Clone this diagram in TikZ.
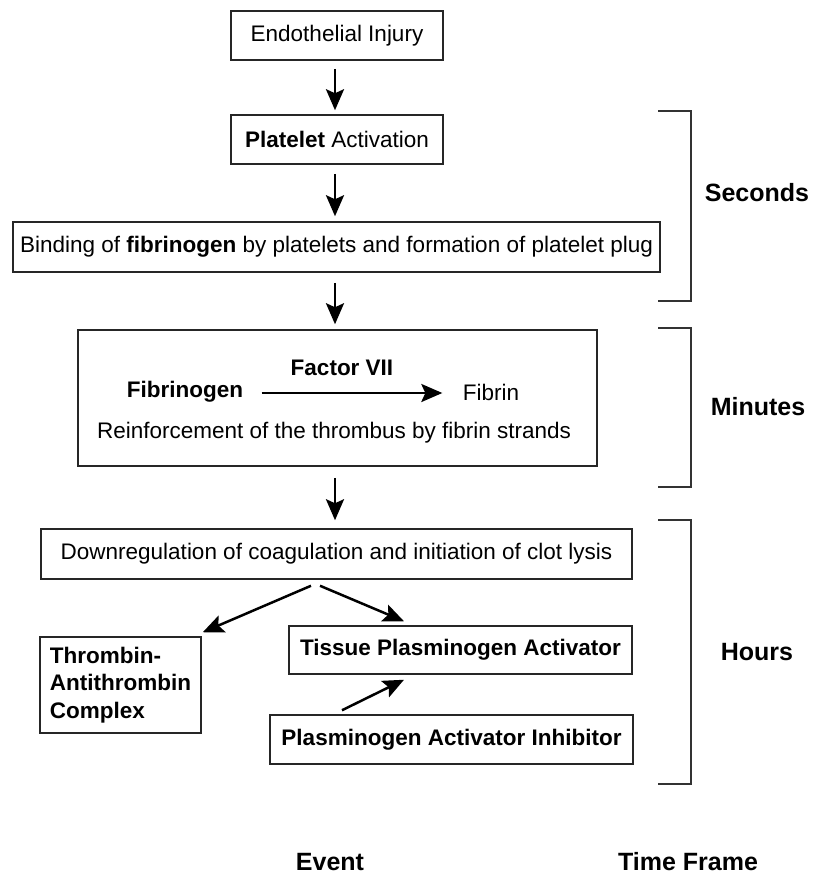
\documentclass[tikz,border=0pt]{standalone}
\usepackage{fontspec}
\setmainfont{Liberation Sans}
\usetikzlibrary{arrows.meta}
\begin{document}
\begin{tikzpicture}[x=1pt,y=-1pt,
  every node/.style={font=\fontsize{22.5}{27.5}\selectfont, text=black},
  box/.style={draw=black!85, line width=1.5pt, inner sep=0pt},
  arr/.style={line width=2.5pt, draw=black, -{Stealth[length=21pt,width=18pt,inset=4pt]}},
  brk/.style={draw=black!80, line width=1.5pt},
  lbl/.style={font=\fontsize{25}{30}\selectfont\bfseries}]
\useasboundingbox (0,0) rectangle (812,876);
% boxes
\node[box, minimum width=212pt, minimum height=49pt] (e) at (337,35.5) {Endothelial Injury};
\node[box, minimum width=212pt, minimum height=49pt] (p) at (337,139.5) {\textbf{Platelet} Activation};
\node[box, minimum width=647pt, minimum height=50pt] (b) at (336.5,247) {Binding of \textbf{fibrinogen} by platelets and formation of platelet plug};
\node[box, minimum width=519pt, minimum height=136pt] (m) at (337.5,398) {};
\node[box, minimum width=591pt, minimum height=50pt] (d) at (336.5,554) {Downregulation of coagulation and initiation of clot lysis};
\node[box, minimum width=161pt, minimum height=96pt, align=left, font=\fontsize{22.5}{27.5}\selectfont\bfseries] (t) at (120.5,685) {Thrombin-\\Antithrombin\\Complex};
\node[box, minimum width=343pt, minimum height=48pt, font=\fontsize{22.5}{27.5}\selectfont\bfseries] (tpa) at (460.5,650) {Tissue Plasminogen Activator};
\node[box, minimum width=363pt, minimum height=49pt, font=\fontsize{22.5}{27.5}\selectfont\bfseries] (pai) at (451.5,739.5) {Plasminogen Activator Inhibitor};
% inside the big box
\node[font=\fontsize{22.5}{27.5}\selectfont\bfseries] (fg) at (185,392) {Fibrinogen};
\node (fb) at (491,392) {Fibrin};
\node[font=\fontsize{22.5}{27.5}\selectfont\bfseries] (f7) at (342,368) {Factor VII};
\node (rf) at (334,433) {Reinforcement of the thrombus by fibrin strands};
\draw[arr] ([xshift=15pt,yshift=-1pt]fg.east) -- ([xshift=-17pt,yshift=-1pt]fb.west);
% vertical arrows
\draw[arr] ([xshift=-2pt,yshift=-8pt]e.south) -- ([xshift=-2pt,yshift=4pt]p.north);
\draw[arr] ([xshift=-2pt,yshift=-9pt]p.south) -- ([xshift=-1.5pt,yshift=5pt]b.north);
\draw[arr] ([xshift=-1.5pt,yshift=-10pt]b.south) -- ([xshift=-2.5pt,yshift=5pt]m.north);
\draw[arr] ([xshift=-2.5pt,yshift=-11pt]m.south) -- ([xshift=-1.5pt,yshift=8pt]d.north);
% diagonal arrows
\draw[arr] ([xshift=-25.5pt,yshift=-6pt]d.south) -- ([xshift=1pt,yshift=4pt]t.north east);
\draw[arr] ([xshift=-16.5pt,yshift=-6pt]d.south) -- ([xshift=-56.5pt,yshift=4pt]tpa.north);
\draw[arr] ([xshift=-109.5pt,yshift=4pt]pai.north) -- ([xshift=-56.5pt,yshift=-5pt]tpa.south);
% brackets
\draw[brk] (658,111) -- (691,111) -- (691,301) -- (658,301);
\draw[brk] (658,328) -- (691,328) -- (691,487) -- (658,487);
\draw[brk] (658,520) -- (691,520) -- (691,784) -- (658,784);
\node[lbl] (s) at (757,193) {Seconds};
\node[lbl] (mi) at (758,407) {Minutes};
\node[lbl] (h) at (757,652) {Hours};
\node[lbl] (ev) at (330,862) {Event};
\node[lbl] (tf) at (688,862) {Time Frame};
\end{tikzpicture}
\end{document}
